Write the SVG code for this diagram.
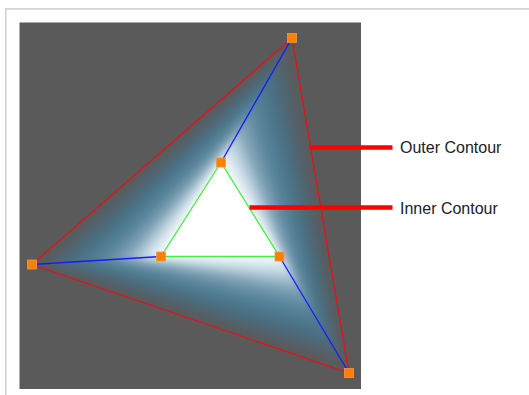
<svg xmlns="http://www.w3.org/2000/svg" width="529" height="395" viewBox="0 0 529 395">
<style>
.lbl{font-family:"Liberation Sans",Arial,sans-serif;font-size:16px;fill:#1c1c24}
.outer{fill:none;stroke:#e8101a;stroke-width:1.3}
.inner{fill:none;stroke:#44ee44;stroke-width:1.3}
.spoke{stroke:#1a1aff;stroke-width:1.3;fill:none}
.pt{fill:#ff8000;stroke:#e89a50;stroke-width:0.8}
.lead{stroke:#ff0000;stroke-width:4.5;fill:none}
</style>
<defs>
<clipPath id="clipOuter"><polygon points="292,38 32,264.5 349,373"/></clipPath>
<filter id="soft" x="-10%" y="-10%" width="120%" height="120%"><feGaussianBlur stdDeviation="3.5"/></filter>
</defs>
<rect width="529" height="395" fill="#ffffff"/>
<path d="M5.8,395 V8.8 H529" fill="none" stroke="#d6d6d6" stroke-width="1.8"/>
<rect id="canvas" x="19.5" y="22.5" width="341.5" height="366.5" fill="#5a5a5a"/>
<g id="gradient" clip-path="url(#clipOuter)">
<g filter="url(#soft)">
<polygon points="292,38 32,264.5 349,373" fill="#5a5a5a"/>
<polygon points="288.45,44.225 38.45,264.1 345.525,367.175" fill="#575d61"/>
<polygon points="284.9,50.45 44.9,263.7 342.05,361.35" fill="#546168"/>
<polygon points="281.35,56.675 51.35,263.3 338.575,355.525" fill="#51656f"/>
<polygon points="277.8,62.9 57.8,262.9 335.1,349.7" fill="#4e6976"/>
<polygon points="274.25,69.125 64.25,262.5 331.625,343.875" fill="#4c6d7e"/>
<polygon points="270.7,75.35 70.7,262.1 328.15,338.05" fill="#4c7184"/>
<polygon points="267.15,81.575 77.15,261.7 324.675,332.225" fill="#4d758a"/>
<polygon points="263.6,87.8 83.6,261.3 321.2,326.4" fill="#4f7a90"/>
<polygon points="260.05,94.025 90.05,260.9 317.725,320.575" fill="#537f96"/>
<polygon points="256.5,100.25 96.5,260.5 314.25,314.75" fill="#58849b"/>
<polygon points="252.95,106.475 102.95,260.1 310.775,308.925" fill="#618ba1"/>
<polygon points="249.4,112.7 109.4,259.7 307.3,303.1" fill="#6c93a8"/>
<polygon points="245.85,118.925 115.85,259.3 303.825,297.275" fill="#789db1"/>
<polygon points="242.3,125.15 122.3,258.9 300.35,291.45" fill="#86a8bb"/>
<polygon points="238.75,131.375 128.75,258.5 296.875,285.625" fill="#9cb9c9"/>
<polygon points="235.2,137.6 135.2,258.1 293.4,279.8" fill="#b3cbd8"/>
<polygon points="231.65,143.825 141.65,257.7 289.925,273.975" fill="#c9dce6"/>
<polygon points="228.1,150.05 148.1,257.3 286.45,268.15" fill="#dbe8ef"/>
<polygon points="224.55,156.275 154.55,256.9 282.975,262.325" fill="#edf4f7"/>
<polygon points="221,162.5 161,256.5 279.5,256.5" fill="#ffffff"/>
</g>
<polygon points="221,162.5 161,256.5 279.5,256.5" fill="#ffffff"/>
</g>
<g id="connectors">
<line class="spoke" x1="292" y1="38" x2="221" y2="162.5"/>
<line class="spoke" x1="32" y1="264.5" x2="161" y2="256.5"/>
<line class="spoke" x1="349" y1="373" x2="279.5" y2="256.5"/>
<polygon class="outer" points="292,38 32,264.5 349,373"/>
<polygon class="inner" points="221,162.5 161,256.5 279.5,256.5"/>
<line class="lead" x1="310" y1="147.5" x2="392.5" y2="147.5"/>
<line class="lead" x1="249.5" y1="207.5" x2="392.5" y2="207.5"/>
</g>
<g id="outer-top"><rect class="pt" x="287.5" y="33.5" width="9" height="9"/></g>
<g id="outer-left"><rect class="pt" x="27.5" y="260" width="9" height="9"/></g>
<g id="outer-right"><rect class="pt" x="344.5" y="368.5" width="9" height="9"/></g>
<g id="inner-top"><rect class="pt" x="216.5" y="158" width="9" height="9"/></g>
<g id="inner-left"><rect class="pt" x="156.5" y="252" width="9" height="9"/></g>
<g id="inner-right"><rect class="pt" x="275" y="252" width="9" height="9"/></g>
<g id="label-outer"><text class="lbl" x="400" y="153.3">Outer Contour</text></g>
<g id="label-inner"><text class="lbl" x="400" y="213.8">Inner Contour</text></g>
</svg>
